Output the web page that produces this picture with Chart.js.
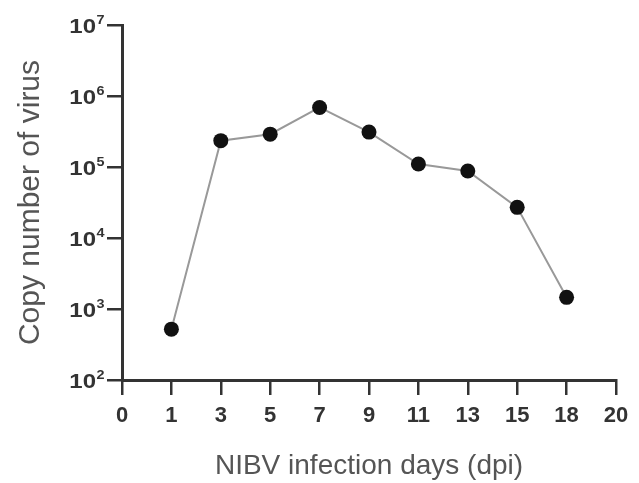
<!DOCTYPE html>
<html>
<head>
<meta charset="utf-8">
<script src="https://cdn.jsdelivr.net/npm/chart.js@4.4.1/dist/chart.umd.min.js"></script>
<style>
  html, body { margin: 0; padding: 0; background: #fff; }
</style>
</head>
<body>
<canvas id="chart" width="639" height="483"></canvas>
<script>
// days post infection (category axis, evenly spaced like the original)
const dayLabels = ["0", "1", "3", "5", "7", "9", "11", "13", "15", "18", "20"];
// copy number of virus (log scale)
const copyNumbers = [null, 520, 2.35e5, 2.9e5, 6.9e5, 3.1e5, 1.1e5, 8.8e4, 2.7e4, 1.46e3, null];
const yTickValues = [1e2, 1e3, 1e4, 1e5, 1e6, 1e7];
const yTickBase = "10";
const yTickExponents = ["2", "3", "4", "5", "6", "7"];

const FONT = "'Liberation Sans', Arial, Helvetica, sans-serif";
const AXIS = "#333";

// draws 10^n labels with a raised exponent next to the y ticks
const powerLabels = {
  id: "powerLabels",
  afterDraw(chart) {
    const scale = chart.scales.y;
    const ctx = chart.ctx;
    const right = scale.right - 26;
    ctx.save();
    ctx.fillStyle = AXIS;
    ctx.textBaseline = "middle";
    yTickValues.forEach((v, i) => {
      const y = scale.getPixelForValue(v);
      ctx.save();
      ctx.translate(right, y);
      ctx.scale(1.2, 1); // original lettering is a bit wide
      ctx.font = `bold 20px ${FONT}`;
      ctx.textAlign = "right";
      ctx.fillText(yTickBase, 0, 2);
      ctx.font = `bold 12px ${FONT}`;
      ctx.textAlign = "left";
      ctx.fillText(yTickExponents[i], 0.5, -4);
      ctx.restore();
    });
    ctx.restore();
  },
};

new Chart(document.getElementById("chart"), {
  type: "line",
  data: {
    labels: dayLabels,
    datasets: [{
      data: copyNumbers,
      borderColor: "#999",
      borderWidth: 2,
      pointRadius: 7.5,
      pointBackgroundColor: "#111",
      pointBorderColor: "#111",
      pointBorderWidth: 0,
      tension: 0,
      fill: false,
    }],
  },
  options: {
    responsive: false,
    animation: false,
    layout: { padding: { left: 0, right: 23, top: 25, bottom: 0 } },
    plugins: { legend: { display: false }, tooltip: { enabled: false } },
    scales: {
      x: {
        type: "category",
        offset: false,
        afterFit: (s) => { s.height = 103; },
        border: { display: true, color: AXIS, width: 3 },
        grid: { display: true, offset: false, drawOnChartArea: false, drawTicks: true, tickLength: 15, color: AXIS, lineWidth: 2.5 },
        ticks: { color: AXIS, padding: 8, maxRotation: 0, autoSkip: false, font: { family: FONT, size: 22, weight: "bold" } },
        title: {
          display: true,
          text: "NIBV infection days (dpi)",
          color: "#555",
          font: { family: FONT, size: 28 },
          padding: { top: 0, bottom: 0 },
        },
      },
      y: {
        type: "logarithmic",
        min: 1e2,
        max: 1e7,
        afterBuildTicks: (s) => { s.ticks = yTickValues.map((v) => ({ value: v })); },
        afterFit: (s) => { s.width = 122; },
        border: { display: true, color: AXIS, width: 3 },
        grid: { display: true, drawOnChartArea: false, drawTicks: true, tickLength: 15, color: AXIS, lineWidth: 2.5 },
        ticks: { display: false },
        title: {
          display: true,
          text: "Copy number of virus",
          color: "#555",
          font: { family: FONT, size: 30 },
          padding: { top: 13, bottom: 0 },
        },
      },
    },
  },
  plugins: [powerLabels],
});
</script>
</body>
</html>
